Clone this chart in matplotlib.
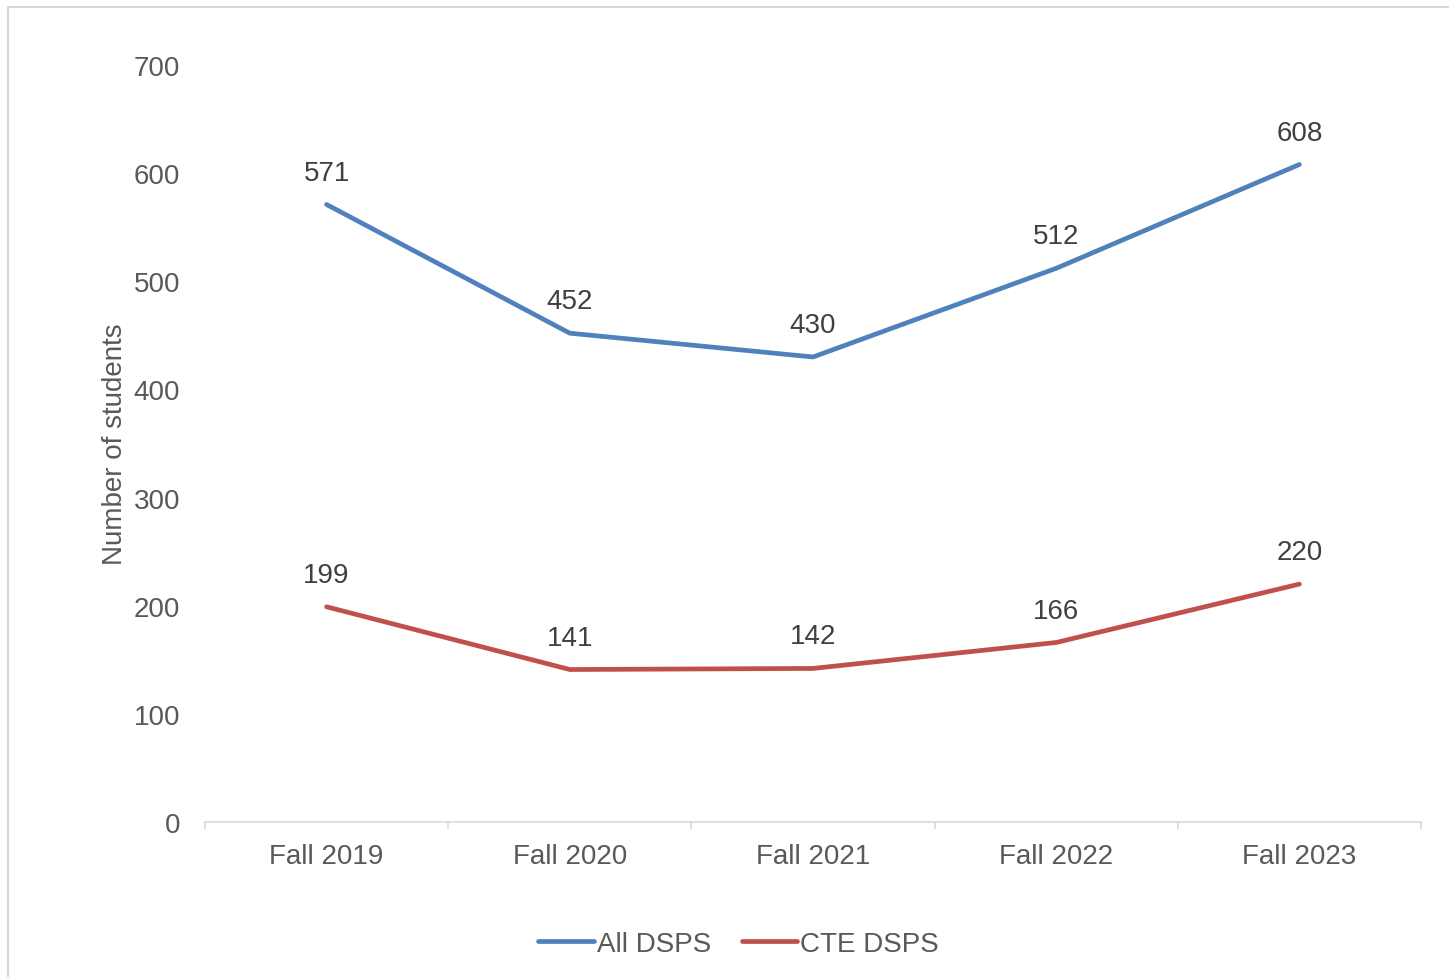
import matplotlib.pyplot as plt
from matplotlib.patches import Rectangle
from matplotlib.ticker import FixedLocator
import numpy as np

plt.rcParams['font.family'] = ['Liberation Sans', 'DejaVu Sans']

# Data
terms = ['Fall 2019', 'Fall 2020', 'Fall 2021', 'Fall 2022', 'Fall 2023']
all_dsps = [571, 452, 430, 512, 608]
cte_dsps = [199, 141, 142, 166, 220]

text_color = '#595959'
grid_color = '#D9D9D9'
blue = '#4F81BD'
red = '#C0504D'
fs = 20

fig = plt.figure(figsize=(14.49, 9.78), dpi=100)
ax = fig.add_axes([205 / 1449, 1 - 823 / 978, 1216 / 1449, (823 - 66) / 978])

x = np.arange(len(terms))
ax.plot(x, all_dsps, color=blue, lw=3.4, label='All DSPS', solid_capstyle='round')
ax.plot(x, cte_dsps, color=red, lw=3.4, label='CTE DSPS', solid_capstyle='round')

# Data labels
for xi, v in zip(x, all_dsps):
    ax.annotate(f"{v}", (xi, v), xytext=(0, 23), textcoords='offset points',
                ha='center', va='center', fontsize=fs, color='#404040')
for xi, v in zip(x, cte_dsps):
    ax.annotate(f"{v}", (xi, v), xytext=(0, 23), textcoords='offset points',
                ha='center', va='center', fontsize=fs, color='#404040')

ax.set_xlim(-0.5, len(terms) - 0.5)
ax.set_ylim(0, 700)
ax.set_yticks(range(0, 701, 100))
ax.set_xticks(x)
ax.set_xticklabels(terms)
ax.xaxis.set_minor_locator(FixedLocator(np.arange(-0.5, len(terms), 1)))

ax.tick_params(axis='x', which='major', length=0, pad=15, labelsize=fs, labelcolor=text_color)
ax.tick_params(axis='x', which='minor', length=5, width=1.2, color=grid_color, direction='out')
ax.tick_params(axis='y', length=0, pad=18, labelsize=fs, labelcolor=text_color)

for s in ['top', 'right', 'left']:
    ax.spines[s].set_visible(False)
ax.spines['bottom'].set_color(grid_color)
ax.spines['bottom'].set_linewidth(1.2)

ax.set_ylabel('Number of students', fontsize=fs, color=text_color, labelpad=4)

ax.legend(loc='center', bbox_to_anchor=(0.5 + 14 / 1449, 1 - 945 / 978), bbox_transform=fig.transFigure,
          ncol=2, frameon=False, fontsize=fs, labelcolor=text_color,
          handlelength=2.0, handletextpad=0.1, columnspacing=1.1)

# Outer chart border (partly cropped)
fig.patches.append(Rectangle((8 / 1449, -0.1), 1.2, 1.1 - 8 / 978, transform=fig.transFigure,
                             fill=False, edgecolor=grid_color, lw=1.5))

fig.savefig('out.png', dpi=100)
